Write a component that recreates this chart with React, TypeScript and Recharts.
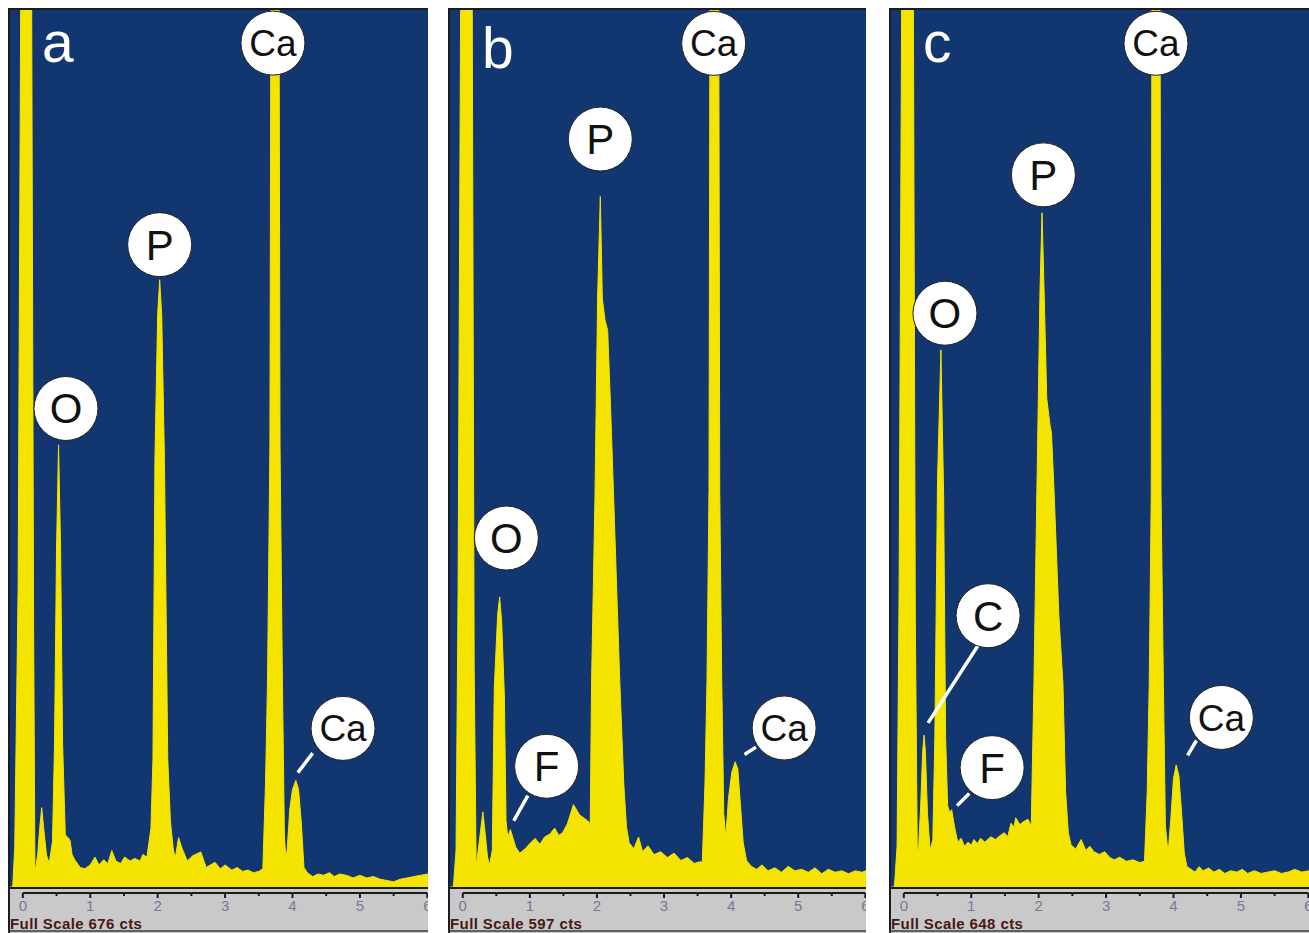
import { AreaChart, Area, XAxis, YAxis, CartesianGrid, ReferenceDot, ReferenceLine } from 'recharts'

const BLUE = '#12366f'
const YELLOW = '#f4e400'
const STRIP = '#c9c9c9'
const FONT = '"Liberation Sans", Arial, Helvetica, sans-serif'

// energy axis (keV)
const KEV_MIN = -0.22
const KEV_MAX = 6.01
const KEV_TICKS = [0, 0.5, 1, 1.5, 2, 2.5, 3, 3.5, 4, 4.5, 5, 5.5, 6]

// full scale of each spectrum (counts)
const FULL_SCALE_A = 676
const FULL_SCALE_B = 597
const FULL_SCALE_C = 648

// [keV, counts]; off-scale peaks are clipped at full scale
const SPECTRUM_A: [number, number][] = [
  [-0.2, 0], [-0.15, 0], [-0.12, 31], [-0.07, 230], [-0.03, 700], [0.04, 2500], [0.13, 700],
  [0.16, 200], [0.18, 11], [0.22, 25], [0.25, 45], [0.28, 61], [0.31, 45], [0.35, 25], [0.39, 18],
  [0.44, 35], [0.47, 110], [0.5, 260], [0.53, 340], [0.56, 260], [0.59, 110], [0.63, 40],
  [0.67, 38], [0.7, 36], [0.73, 25], [0.77, 21], [0.85, 15], [0.92, 14], [1.0, 17], [1.07, 23],
  [1.13, 17], [1.2, 21], [1.26, 18], [1.32, 28], [1.38, 20], [1.45, 18], [1.51, 23], [1.59, 20],
  [1.66, 22], [1.74, 20], [1.78, 25], [1.84, 23],
  [1.9, 45], [1.93, 98], [1.96, 330], [2.0, 440], [2.03, 467], [2.06, 440], [2.1, 330],
  [2.15, 98], [2.19, 50], [2.23, 30], [2.26, 22], [2.31, 38], [2.36, 30], [2.44, 20], [2.52, 24],
  [2.64, 27], [2.72, 15], [2.85, 19], [2.93, 14], [3.0, 17], [3.1, 13], [3.18, 15], [3.26, 12],
  [3.34, 13], [3.42, 11], [3.5, 12], [3.56, 14],
  [3.6, 80], [3.63, 160], [3.665, 340], [3.68, 700], [3.74, 1500], [3.8, 700], [3.815, 340],
  [3.85, 160], [3.88, 40], [3.9, 23], [3.92, 28], [3.96, 60], [4.0, 75], [4.05, 82], [4.09, 75],
  [4.13, 50], [4.17, 15], [4.22, 11], [4.3, 8], [4.38, 10], [4.46, 9], [4.55, 11], [4.62, 8],
  [4.7, 10], [4.8, 9], [4.9, 7], [5.0, 9], [5.1, 7], [5.2, 8], [5.3, 6], [5.4, 5], [5.5, 4],
  [5.6, 6], [5.7, 7], [5.8, 8], [5.9, 9], [6.01, 10],
]

const SPECTRUM_B: [number, number][] = [
  [-0.2, 0], [-0.14, 0], [-0.1, 25], [-0.07, 200], [-0.03, 620], [0.05, 2500], [0.14, 620],
  [0.17, 150], [0.2, 14], [0.23, 25], [0.27, 40], [0.3, 51], [0.33, 38], [0.37, 20], [0.4, 15],
  [0.44, 25], [0.47, 135], [0.52, 185], [0.55, 197], [0.58, 180], [0.62, 130], [0.645, 45],
  [0.67, 34], [0.71, 39], [0.79, 27], [0.85, 23], [0.93, 26], [1.01, 30], [1.08, 33], [1.15, 29],
  [1.22, 34], [1.3, 36], [1.37, 40], [1.43, 35], [1.49, 37], [1.56, 43], [1.65, 56], [1.74, 49],
  [1.86, 45], [1.9, 43],
  [1.92, 140], [1.97, 263], [2.01, 400], [2.05, 469], [2.08, 400], [2.12, 385], [2.16, 378],
  [2.2, 330], [2.25, 263], [2.34, 140], [2.4, 70], [2.44, 41], [2.48, 30], [2.55, 26], [2.62, 34],
  [2.68, 24], [2.76, 28], [2.85, 22], [2.95, 24], [3.05, 20], [3.15, 23], [3.25, 18], [3.35, 20],
  [3.45, 16], [3.52, 17], [3.57, 17],
  [3.61, 70], [3.64, 140], [3.67, 270], [3.685, 620], [3.75, 1500], [3.815, 620], [3.83, 270],
  [3.86, 140], [3.89, 50], [3.92, 34], [3.96, 60], [4.01, 78], [4.06, 85], [4.1, 80], [4.14, 55],
  [4.18, 30], [4.23, 18], [4.3, 14], [4.38, 12], [4.46, 15], [4.55, 11], [4.65, 13], [4.75, 10],
  [4.85, 14], [4.95, 11], [5.05, 12], [5.15, 10], [5.25, 13], [5.35, 9], [5.45, 12], [5.55, 10],
  [5.65, 11], [5.75, 9], [5.85, 11], [5.95, 10], [6.01, 11],
]

const SPECTRUM_C: [number, number][] = [
  [-0.2, 0], [-0.14, 0], [-0.1, 30], [-0.07, 220], [-0.03, 680], [0.05, 2500], [0.14, 680],
  [0.17, 200], [0.2, 25], [0.22, 30], [0.25, 60], [0.28, 100], [0.3, 112], [0.32, 100], [0.35, 55],
  [0.39, 27], [0.43, 35], [0.46, 110], [0.5, 300], [0.55, 396], [0.59, 290], [0.62, 110],
  [0.65, 60], [0.68, 55], [0.71, 57], [0.75, 45], [0.8, 33], [0.85, 36], [0.9, 30], [0.95, 33],
  [1.0, 31], [1.04, 35], [1.09, 32], [1.14, 36], [1.2, 33], [1.29, 37], [1.36, 35], [1.43, 38],
  [1.49, 40], [1.54, 37], [1.59, 47], [1.63, 44], [1.66, 51], [1.72, 46], [1.77, 48], [1.84, 50],
  [1.89, 45],
  [1.93, 150], [1.97, 280], [2.02, 440], [2.05, 497], [2.08, 440], [2.12, 360], [2.17, 340],
  [2.19, 335], [2.23, 290], [2.3, 200], [2.36, 150], [2.4, 70], [2.44, 40], [2.48, 31], [2.55, 28],
  [2.63, 35], [2.7, 27], [2.76, 30], [2.82, 26], [2.9, 24], [2.98, 26], [3.05, 22], [3.12, 20],
  [3.2, 22], [3.3, 19], [3.4, 20], [3.5, 18], [3.57, 19],
  [3.61, 70], [3.64, 150], [3.67, 290], [3.68, 670], [3.74, 1500], [3.8, 670], [3.815, 290],
  [3.85, 150], [3.88, 45], [3.92, 25], [3.96, 50], [4.0, 80], [4.04, 90], [4.08, 82], [4.12, 55],
  [4.16, 25], [4.2, 15], [4.26, 13], [4.32, 11], [4.38, 15], [4.44, 12], [4.52, 14], [4.6, 11],
  [4.68, 13], [4.76, 10], [4.85, 12], [4.94, 11], [5.02, 13], [5.1, 10], [5.2, 12], [5.3, 10],
  [5.4, 11], [5.5, 12], [5.6, 10], [5.7, 11], [5.8, 13], [5.9, 11], [6.01, 12],
]

// element tags: [symbol, keV, counts] of the circle centre
const TAGS_A: [string, number, number][] = [
  ['Ca', 3.71, 649], ['P', 2.03, 494], ['O', 0.64, 368], ['Ca', 4.75, 122],
]
const TAGS_B: [string, number, number][] = [
  ['Ca', 3.74, 573], ['P', 2.05, 508], ['O', 0.65, 237], ['F', 1.25, 82], ['Ca', 4.79, 108],
]
const TAGS_C: [string, number, number][] = [
  ['Ca', 3.74, 622], ['P', 2.07, 525], ['O', 0.61, 423], ['C', 1.25, 200], ['F', 1.31, 88],
  ['Ca', 4.71, 125],
]

// leader lines: [keV1, cts1, keV2, cts2]
const LEADERS_A: [number, number, number, number][] = [[4.3, 103, 4.08, 88]]
const LEADERS_B: [number, number, number, number][] = [
  [0.97, 62, 0.76, 45], [4.37, 95, 4.2, 90],
]
const LEADERS_C: [number, number, number, number][] = [
  [1.1, 178, 0.36, 121], [0.97, 69, 0.79, 60], [4.34, 108, 4.21, 97],
]

const CHART_H = 925
const STRIP_H = 46
const PLOT_H = CHART_H - STRIP_H

function AxisTick(props: any) {
  const { x, y, payload, step } = props
  const v = payload.value
  const major = Number.isInteger(v)
  return (
    <g>
      {v < 6 && <line x1={x} x2={x + step} y1={y + 6} y2={y + 6} stroke="#1a1a1a" strokeWidth={1.8} />}
      <line x1={x} x2={x} y1={y + 6} y2={y + (major ? 11 : 9)} stroke="#1a1a1a" strokeWidth={2} />
      {major && (
        <text x={x} y={y + 24} textAnchor="middle" fontSize={15} fontFamily={FONT} fill="#737a98">
          {v}
        </text>
      )}
    </g>
  )
}

interface SpectrumProps {
  letter: string
  letterY: number
  left: number
  width: number
  fullScale: number
  points: [number, number][]
  tags: [string, number, number][]
  leaders: [number, number, number, number][]
}

function Spectrum({ letter, letterY, left, width, fullScale, points, tags, leaders }: SpectrumProps) {
  const data = points.map(([kev, cts]) => ({ kev, cts }))
  const step = (width / (KEV_MAX - KEV_MIN)) * 0.5
  return (
    <div style={{ position: 'absolute', left, top: 8, width, height: CHART_H, overflow: 'hidden', background: STRIP }}>
      <AreaChart width={width} height={CHART_H} data={data} margin={{ top: 0, right: 0, bottom: 0, left: 0 }}>
        <CartesianGrid fill={BLUE} horizontal={false} vertical={false} stroke="none" />
        <XAxis
          dataKey="kev"
          type="number"
          domain={[KEV_MIN, KEV_MAX]}
          allowDataOverflow
          ticks={KEV_TICKS}
          interval={0}
          height={STRIP_H}
          tickSize={0}
          tickMargin={0}
          axisLine={false}
          tickLine={false}
          tick={(p: any) => <AxisTick {...p} step={step} />}
        />
        <YAxis hide domain={[0, fullScale]} allowDataOverflow />
        <Area
          type="linear"
          dataKey="cts"
          stroke={YELLOW}
          strokeWidth={1}
          fill={YELLOW}
          fillOpacity={1}
          dot={false}
          activeDot={false}
          isAnimationActive={false}
        />
        {leaders.map(([x1, y1, x2, y2], i) => (
          <ReferenceLine
            key={`l${i}`}
            segment={[{ x: x1, y: y1 }, { x: x2, y: y2 }]}
            stroke="#ffffff"
            strokeWidth={3.5}
            ifOverflow="visible"
          />
        ))}
        {tags.map(([text, kev, cts], i) => (
          <ReferenceDot
            key={`t${i}`}
            x={kev}
            y={cts}
            r={32}
            fill="#ffffff"
            stroke="#222222"
            strokeWidth={1}
            ifOverflow="visible"
            label={{
              value: text,
              position: 'center',
              fill: '#111111',
              fontSize: text.length > 1 ? 37 : 42,
              fontFamily: FONT,
            }}
          />
        ))}
      </AreaChart>
      <svg
        width={width}
        height={CHART_H}
        style={{ position: 'absolute', left: 0, top: 0, pointerEvents: 'none' }}
      >
        <text x={34} y={letterY} fontSize={57} fontFamily={FONT} fill="#ffffff">
          {letter}
        </text>
        <line x1={0} x2={width} y1={1} y2={1} stroke="#1b1b24" strokeWidth={2} />
        <line x1={1} x2={1} y1={0} y2={CHART_H} stroke="#1b1b24" strokeWidth={2} />
        <line x1={0} x2={width} y1={PLOT_H + 1} y2={PLOT_H + 1} stroke="#1b1b24" strokeWidth={2} />
        <line x1={0} x2={width} y1={CHART_H - 2} y2={CHART_H - 2} stroke="#3a3a44" strokeWidth={1.5} />
        <text x={2} y={CHART_H - 4} fontSize={15} letterSpacing={0.4} fontWeight="bold" fontFamily={FONT} fill="#4a1616">
          {`Full Scale ${fullScale} cts`}
        </text>
      </svg>
    </div>
  )
}

export default function App() {
  return (
    <div style={{ position: 'absolute', left: 0, top: 0, width: 1309, height: 933, background: '#ffffff' }}>
      <Spectrum letter="a" letterY={54} left={8} width={420} fullScale={FULL_SCALE_A} points={SPECTRUM_A} tags={TAGS_A} leaders={LEADERS_A} />
      <Spectrum letter="b" letterY={60} left={448} width={418} fullScale={FULL_SCALE_B} points={SPECTRUM_B} tags={TAGS_B} leaders={LEADERS_B} />
      <Spectrum letter="c" letterY={54} left={889} width={420} fullScale={FULL_SCALE_C} points={SPECTRUM_C} tags={TAGS_C} leaders={LEADERS_C} />
    </div>
  )
}
